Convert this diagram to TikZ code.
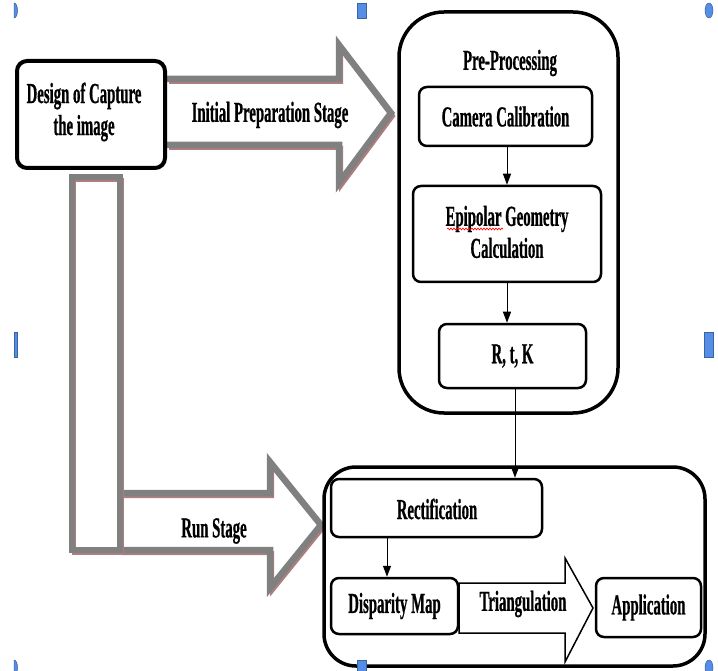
\documentclass[tikz,border=0pt]{standalone}
\usepackage{fontspec}
\setmainfont{Liberation Serif}[FakeStretch=0.51,BoldFeatures={FakeBold=0.6}]
\usetikzlibrary{arrows.meta,decorations.pathmorphing}
\definecolor{arrgray}{RGB}{128,128,128}
\definecolor{shadowred}{RGB}{175,125,125}
\definecolor{hblue}{RGB}{85,142,230}
\begin{document}
\begin{tikzpicture}[x=1pt,y=-1pt,
  box/.style={draw=black, line width=2.5pt, rounded corners=8pt, fill=white, inner sep=0pt},
  grp/.style={draw=black, line width=3.5pt, inner sep=0pt},
  txt/.style={font=\fontsize{29}{32}\selectfont\bfseries, align=center, inner sep=0pt},
  garrow/.style={draw=arrgray, line width=6.5pt, line join=miter},
  gshadow/.style={draw=shadowred, line width=4pt, line join=miter},
  flow/.style={-{Triangle[length=11pt,width=8pt]}, line width=1pt},
  handle/.style={fill=hblue, draw=hblue!70!black, line width=0.5pt}
]
\useasboundingbox (0,0) rectangle (718,671);

% ---- gray stage arrows ----
% run stage arrow
\fill[white] (120,493) -- (270,493) -- (270,462) -- (321,525) -- (270,588) -- (270,550) -- (120,550) -- cycle;
\draw[gshadow] (122,496) -- (272,496) -- (272,465) -- (323,528) -- (272,591) -- (272,553) -- (122,553);
\draw[garrow] (120,493) -- (270,493) -- (270,462) -- (321,525) -- (270,588) -- (270,550) -- (120,550);
% vertical bar
\fill[white] (72,177) rectangle (120,550);
\draw[gshadow] (74,180) rectangle (122,553);
\draw[garrow] (72,177) rectangle (120,550);
% initial preparation arrow
\fill[white] (167,79) -- (339,79) -- (339,45) -- (391,113) -- (339,183) -- (339,145) -- (167,145) -- cycle;
\draw[gshadow] (169,82) -- (341,82) -- (341,48) -- (393,116) -- (341,186) -- (341,148) -- (169,148);
\draw[garrow] (167,79) -- (339,79) -- (339,45) -- (391,113) -- (339,183) -- (339,145) -- (167,145);

\node[txt] (initial) at (270,115) {Initial Preparation Stage};
\node[txt] (runstage) at (214,531) {Run Stage};

% ---- design box ----
\node[box, line width=4pt, rounded corners=10pt, minimum width=148pt, minimum height=107pt] (design) at (91,114.5) {};
\node[txt] (designtxt) at (84,112) {Design of Capture\\the image};

% ---- pre-processing group ----
\node[grp, rounded corners=45pt, minimum width=219pt, minimum height=401pt] (pre) at (508.5,212.5) {};
\node[txt] (pretitle) at (510,63) {Pre-Processing};
\node[box, minimum width=173pt, minimum height=59pt] (camera) at (505.5,116.5) {};
\node[txt] at (camera.center) {Camera Calibration};
\node[box, minimum width=188pt, minimum height=96pt] (epi) at (507,234) {};
\node[txt] at (507,232) {Epipolar Geometry\\Calculation};
\draw[red, line width=0.6pt, decorate, decoration={snake, amplitude=1pt, segment length=3pt}] (447,229) -- (503,229);
\node[box, minimum width=147pt, minimum height=64pt] (rtk) at (512.5,356) {};
\node[txt] at (rtk.center) {R, t, K};

\draw[flow] ([xshift=1.5pt]camera.south) -- ([xshift=1.5pt]camera.south |- epi.north);
\draw[flow] (epi.south) -- (epi.south |- rtk.north);

% ---- run group ----
\node[grp, rounded corners=32pt, minimum width=381pt, minimum height=199pt] (run) at (514.5,566.5) {};
\node[box, minimum width=211pt, minimum height=58pt] (rect) at (436.5,508) {};
\node[txt] at (437,509) {Rectification};

% triangulation arrow
\draw[black, line width=1.5pt, fill=white, line join=miter] (459,583) -- (565,583) -- (565,558) -- (593,608) -- (565,662) -- (565,633) -- (459,633) -- cycle;
\node[txt] (triang) at (523,604) {Triangulation};

\node[box, minimum width=127pt, minimum height=56pt] (disp) at (394.5,606) {};
\node[txt] at (disp.center) {Disparity Map};
\node[box, minimum width=105pt, minimum height=59pt] (app) at (648.5,607.5) {};
\node[txt] at (app.center) {Application};

\draw[flow] ([xshift=2.5pt]rtk.south) -- ([xshift=2.5pt]rtk.south |- rect.north);
\draw[flow] ([xshift=-49.5pt]rect.south) -- ([xshift=-49.5pt]rect.south |- disp.north);

% ---- selection handles ----
\draw[handle] (14,3) .. controls (18.5,3) and (18.5,18) .. (14,18) -- cycle;
\draw[handle] (357,3) rectangle (366,18);
\draw[handle] (709,10.5) ellipse [x radius=4, y radius=7.5];
\draw[handle] (14,332) rectangle (17,357);
\draw[handle] (704,332) rectangle (713,357);
\draw[handle] (14,660) .. controls (18.5,660) and (18.5,675) .. (14,675) -- cycle;
\draw[handle] (357,660) rectangle (366,675);
\draw[handle] (709,667.5) ellipse [x radius=4, y radius=7.5];
\end{tikzpicture}
\end{document}
